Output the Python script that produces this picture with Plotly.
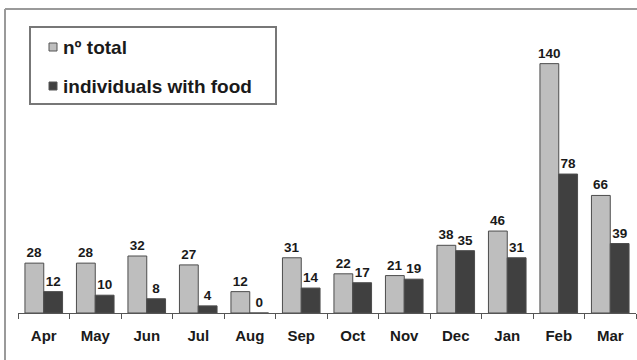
import plotly.graph_objects as go

months = ["Apr", "May", "Jun", "Jul", "Aug", "Sep", "Oct", "Nov", "Dec", "Jan", "Feb", "Mar"]
total = [28, 28, 32, 27, 12, 31, 22, 21, 38, 46, 140, 66]
with_food = [12, 10, 8, 4, 0, 14, 17, 19, 35, 31, 78, 39]
legend_labels = ["nº total", "individuals with food"]

FONT = "Arial, Liberation Sans, sans-serif"
LIGHT = "#bebebe"
DARK = "#404040"
EDGE = "#4d4d4d"

W, H = 637, 360
L, R, T, B = 18, 1, 28, 47
pw, ph = W - L - R, H - T - B

def px_x(x):
    return (x - L) / pw

def px_y(y):
    return (H - B - y) / ph

fig = go.Figure()
fig.add_trace(go.Bar(x=months, y=total, name=legend_labels[0],
                     marker=dict(color=LIGHT, line=dict(color=EDGE, width=1)),
                     text=[str(v) for v in total], textposition="outside",
                     constraintext="none",
                     textfont=dict(family=FONT, size=13.5, color="#1a1a1a"),
                     texttemplate="<b>%{text}</b>", cliponaxis=False))
fig.add_trace(go.Bar(x=months, y=with_food, name=legend_labels[1],
                     marker=dict(color=DARK, line=dict(color=EDGE, width=1)),
                     text=[str(v) for v in with_food], textposition="outside",
                     constraintext="none",
                     textfont=dict(family=FONT, size=13.5, color="#1a1a1a"),
                     texttemplate="<b>%{text}</b>", cliponaxis=False))

shapes = []
# outer frame (left and top edges visible)
shapes.append(dict(type="line", xref="paper", yref="paper",
                   x0=px_x(5), x1=px_x(5), y0=px_y(400), y1=px_y(9),
                   line=dict(color="#9a9a9a", width=2)))
shapes.append(dict(type="line", xref="paper", yref="paper",
                   x0=px_x(5), x1=px_x(700), y0=px_y(9), y1=px_y(9),
                   line=dict(color="#9a9a9a", width=2)))
# legend box
shapes.append(dict(type="rect", xref="paper", yref="paper",
                   x0=px_x(30), x1=px_x(276), y0=px_y(104), y1=px_y(27),
                   line=dict(color="#777777", width=2), fillcolor="rgba(0,0,0,0)"))
annotations = []
for i, (lab, col) in enumerate(zip(legend_labels, [LIGHT, DARK])):
    cy = 47 + i * 39
    shapes.append(dict(type="rect", xref="paper", yref="paper",
                       x0=px_x(49), x1=px_x(57), y0=px_y(cy + 4), y1=px_y(cy - 4),
                       line=dict(color="#555555", width=1), fillcolor=col))
    annotations.append(dict(x=px_x(61), y=px_y(cy), xref="paper", yref="paper",
                            text="<b>" + lab + "</b>", showarrow=False,
                            xanchor="left", yanchor="middle",
                            font=dict(family=FONT, size=19, color="#1a1a1a")))

fig.update_layout(
    width=W, height=H,
    margin=dict(l=L, r=R, t=T, b=B),
    paper_bgcolor="white", plot_bgcolor="white",
    barmode="group", bargap=0.27, bargroupgap=0,
    showlegend=False,
    shapes=shapes, annotations=annotations,
    xaxis=dict(showline=True, linecolor="#555555", linewidth=1,
               ticks="outside", tickson="boundaries", ticklen=5, tickcolor="#555555",
               ticklabelstandoff=9,
               tickfont=dict(family=FONT, size=15, color="#1a1a1a"),
               tickvals=months, ticktext=["<b>" + m + "</b>" for m in months],
               showgrid=False),
    yaxis=dict(range=[0, 160], visible=False, showgrid=False),
)

fig.write_html("out.html")
